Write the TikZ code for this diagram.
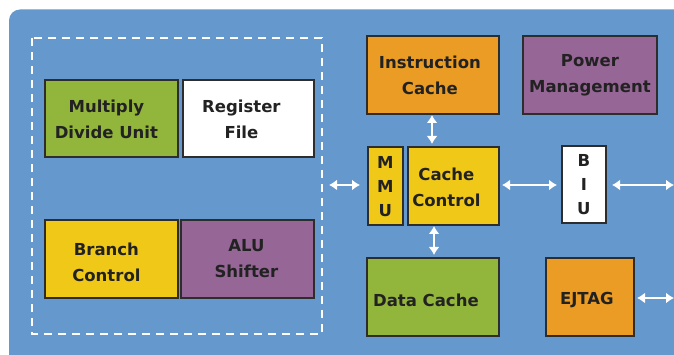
\documentclass[tikz,border=0pt]{standalone}
\usepackage{fontspec}
\setmainfont{DejaVu Sans}
\usetikzlibrary{arrows.meta}
\definecolor{bgblue}{RGB}{101,152,204}
\definecolor{bgreen}{RGB}{146,181,60}
\definecolor{borange}{RGB}{235,156,36}
\definecolor{bpurple}{RGB}{150,102,150}
\definecolor{byellow}{RGB}{240,200,24}
\definecolor{txt}{RGB}{34,34,34}
\definecolor{edge}{RGB}{45,45,45}
\tikzset{
  blk/.style={draw=edge, line width=1.8pt, inner sep=0pt},
  lbl/.style={font=\bfseries\fontsize{16.5}{26}\selectfont, text=txt, align=center, inner sep=0pt},
  vlbl/.style={font=\bfseries\fontsize{16.5}{24}\selectfont, text=txt, align=center, inner sep=0pt},
  bus/.style={draw=white, line width=2.6pt, {Latex[length=8pt,width=11pt]}-{Latex[length=8pt,width=11pt]}},
}
\begin{document}
\begin{tikzpicture}[x=1pt,y=-1pt]
\useasboundingbox (0,0) rectangle (674,355);
\fill[white] (0,0) rectangle (674,355);
\fill[bgblue, rounded corners=11pt] (9,9.5) rectangle (700,370);
% dashed core region
\draw[white, line width=2.6pt, dash pattern=on 8pt off 6pt] (32,38) rectangle (322,334);
% blocks
\node[blk, fill=bgreen, minimum width=133pt, minimum height=77pt, anchor=north west] (mdu) at (44,79) {};
\node[lbl] at ([xshift=-5pt,yshift=-1pt]mdu.center) {Multiply\\Divide Unit};
\node[blk, fill=white, minimum width=131pt, minimum height=77pt, anchor=north west] (rf) at (182,79) {};
\node[lbl] at ([xshift=-7pt,yshift=-1pt]rf.center) {Register\\File};
\node[blk, fill=byellow, minimum width=133pt, minimum height=78pt, anchor=north west] (bc) at (44,219) {};
\node[lbl] at ([xshift=-5pt,yshift=-3pt]bc.center) {Branch\\Control};
\node[blk, fill=bpurple, minimum width=133pt, minimum height=78pt, anchor=north west] (alu) at (180,219) {};
\node[lbl] at ([xshift=-1pt,yshift=0pt]alu.center) {ALU\\Shifter};
\node[blk, fill=borange, minimum width=132pt, minimum height=78pt, anchor=north west] (ic) at (366,35) {};
\node[lbl] at ([xshift=-3pt,yshift=0pt]ic.center) {Instruction\\Cache};
\node[blk, fill=bpurple, minimum width=134pt, minimum height=78pt, anchor=north west] (pm) at (522,35) {};
\node[lbl] at ([xshift=0pt,yshift=0pt]pm.center) {Power\\Management};
\node[blk, fill=byellow, minimum width=35pt, minimum height=78pt, anchor=north west] (mmu) at (367,146) {};
\node[vlbl] at ([xshift=0pt,yshift=-1pt]mmu.center) {M\\M\\U};
\node[blk, fill=byellow, minimum width=91pt, minimum height=78pt, anchor=north west] (cc) at (407,146) {};
\node[lbl] at ([xshift=-7pt,yshift=-1pt]cc.center) {Cache\\Control};
\node[blk, fill=white, minimum width=44pt, minimum height=77pt, anchor=north west] (biu) at (561,145) {};
\node[vlbl] at ([xshift=0pt,yshift=0pt]biu.center) {B\\I\\U};
\node[blk, fill=bgreen, minimum width=132pt, minimum height=78pt, anchor=north west] (dc) at (366,257) {};
\node[lbl] at ([xshift=-7pt,yshift=-3pt]dc.center) {Data Cache};
\node[blk, fill=borange, minimum width=88pt, minimum height=78pt, anchor=north west] (ej) at (545,257) {};
\node[lbl] at ([xshift=-3pt,yshift=-3pt]ej.center) {EJTAG};
% connector endpoints
\coordinate (coreR) at (329,185);
\coordinate (mmuL) at (360,185);
\coordinate (ccR) at (502,185);
\coordinate (biuL) at (557,185);
\coordinate (biuR) at (612,185);
\coordinate (ext1) at (674,185);
\coordinate (ejR) at (637,298);
\coordinate (ext2) at (674,298);
\coordinate (icB) at (432,115);
\coordinate (ccT) at (432,144);
\coordinate (ccB) at (434,226);
\coordinate (dcT) at (434,255);
\draw[bus] (coreR) -- (mmuL);
\draw[bus] (ccR) -- (biuL);
\draw[bus] (biuR) -- (ext1);
\draw[bus] (ejR) -- (ext2);
\draw[bus] (icB) -- (ccT);
\draw[bus] (ccB) -- (dcT);
\end{tikzpicture}
\end{document}
